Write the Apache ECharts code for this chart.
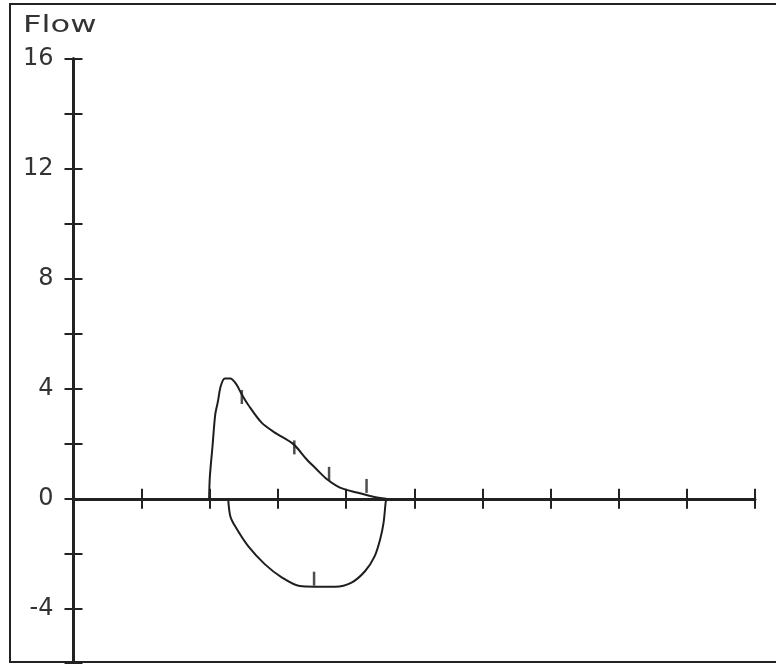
<!DOCTYPE html>
<html>
<head>
<meta charset="utf-8">
<script src="https://cdn.jsdelivr.net/npm/echarts@6/dist/echarts.min.js"></script>
<style>
  html, body { margin: 0; padding: 0; background: #fff; }
  #chart { width: 776px; height: 664px; }
</style>
</head>
<body>
<div id="chart"></div>
<script>
// flow-volume loop (x in tick units, y = flow)
const expiration = [
    [1.99, 0], [2.00, 0.77], [2.04, 1.92], [2.08, 3.07], [2.12, 3.55],
    [2.16, 4.09], [2.22, 4.37], [2.30, 4.37], [2.39, 4.16], [2.47, 3.79],
    [2.56, 3.43], [2.76, 2.77], [2.96, 2.40], [3.23, 1.98], [3.42, 1.44],
    [3.57, 1.07], [3.72, 0.71], [3.91, 0.41], [4.16, 0.23], [4.40, 0.08],
    [4.59, 0]
];
const inspiration = [
    [2.27, 0], [2.30, -0.62], [2.37, -0.99], [2.56, -1.71], [2.81, -2.38],
    [3.06, -2.86], [3.32, -3.17], [3.54, -3.19], [3.84, -3.19], [4.08, -3.04],
    [4.28, -2.62], [4.42, -2.08], [4.50, -1.47], [4.55, -0.86], [4.58, -0.14],
    [4.59, 0]
];
// little time marks sitting on the loop
const timeMarks = [
    [2.47, 3.70], [3.24, 1.87], [3.75, 0.91], [4.30, 0.47], [3.53, -2.90]
];
const yLabels = [16, 12, 8, 4, 0, -4];

const chart = echarts.init(document.getElementById('chart'));

const tickStyle = { color: '#222', width: 2 };
const grid = { left: 73.5, right: 21, top: 58.5, height: 606 };

const option = {
    animation: false,
    backgroundColor: '#fff',
    grid: grid,
    graphic: [
        {
            type: 'rect',
            shape: { x: 10, y: 4, width: 800, height: 658 },
            style: { fill: 'none', stroke: '#222', lineWidth: 2 },
            silent: true
        },
        {
            type: 'text',
            x: 23, y: 15,
            scaleX: 1.4,
            style: {
                text: 'Flow',
                fill: '#333',
                font: '23px "DejaVu Sans"'
            },
            silent: true
        }
    ],
    xAxis: [
        {
            type: 'value', min: 0, max: 10, interval: 1,
            axisLine: { onZero: true, lineStyle: { color: '#222', width: 3 } },
            axisTick: { inside: false, length: 10, lineStyle: tickStyle },
            axisLabel: { show: false },
            splitLine: { show: false }
        },
        {
            type: 'value', min: 0, max: 10, interval: 1, position: 'bottom',
            axisLine: { show: false, onZero: true, onZeroAxisIndex: 0 },
            axisTick: { inside: true, length: 10, lineStyle: tickStyle },
            axisLabel: { show: false },
            splitLine: { show: false }
        }
    ],
    yAxis: [
        {
            type: 'value', min: -6, max: 16, interval: 2, position: 'left',
            axisLine: { show: true, lineStyle: { color: '#222', width: 3 } },
            axisTick: { inside: false, length: 9, lineStyle: tickStyle },
            axisLabel: {
                margin: 20,
                color: '#333',
                fontFamily: 'DejaVu Sans',
                fontSize: 24,
                formatter: v => yLabels.includes(v) ? String(v) : ''
            },
            splitLine: { show: false }
        },
        {
            type: 'value', min: -6, max: 16, interval: 2, position: 'left',
            axisLine: { show: false },
            axisTick: { inside: true, length: 9, lineStyle: tickStyle },
            axisLabel: { show: false },
            splitLine: { show: false }
        }
    ],
    series: [
        {
            type: 'line',
            data: expiration,
            smooth: 0.3,
            showSymbol: false,
            lineStyle: { color: '#1e1e1e', width: 2 },
            silent: true
        },
        {
            type: 'line',
            data: inspiration,
            smooth: 0.3,
            showSymbol: false,
            lineStyle: { color: '#1e1e1e', width: 2 },
            silent: true
        },
        {
            type: 'scatter',
            data: timeMarks,
            symbol: 'rect',
            symbolSize: [2.5, 14],
            itemStyle: { color: '#222' },
            silent: true
        }
    ]
};

chart.setOption(option);
</script>
</body>
</html>
